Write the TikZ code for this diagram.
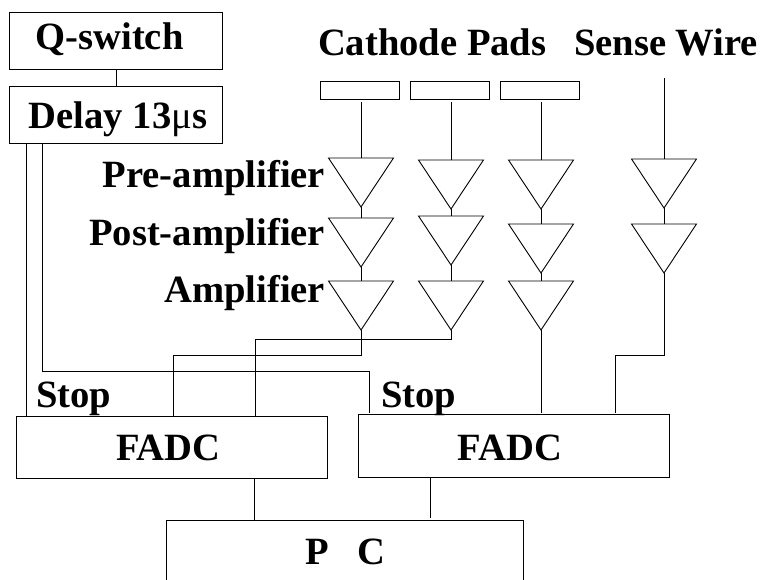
\documentclass[tikz,border=0pt]{standalone}
\usepackage{fontspec}
\setmainfont{Liberation Serif}
\usetikzlibrary{shapes.geometric}
\begin{document}
\begin{tikzpicture}[x=1pt, y=-1pt, line width=0.9pt,
    every node/.style={font=\fontsize{38.6}{41}\selectfont\bfseries, inner sep=0pt, outer sep=0pt},
    boxnode/.style={draw, rectangle, align=center},
    pad/.style={draw, rectangle, minimum width=79pt, minimum height=18pt},
    amp/.style={draw, isosceles triangle, isosceles triangle stretches, shape border rotate=270,
        minimum width=65pt, minimum height=49pt, anchor=apex},
    wire/.style={shorten <=3pt, shorten >=1.5pt}]
    \useasboundingbox (0,0) rectangle (763,580);
    \clip (0,0) rectangle (763,580);

    \node[boxnode, minimum width=213pt, minimum height=57pt, text height=25pt, text depth=8pt] (qsw) at (116,41) {\hspace*{-13pt}Q-switch};
    \node[boxnode, minimum width=213pt, minimum height=57pt, text height=33pt, text depth=4pt] (delay) at (116,114.5) {\hspace*{4pt}Delay 13{\mdseries μ}s};
    \node[boxnode, minimum width=311pt, minimum height=62pt, text height=30pt, text depth=4pt] (fadca) at (172.2,447.2) {\hspace*{-8pt}FADC};
    \node[boxnode, minimum width=311pt, minimum height=63pt, text height=32pt, text depth=3.5pt] (fadcb) at (513.8,445.8) {\hspace*{-8pt}FADC};
    \node[boxnode, minimum width=357pt, minimum height=80pt, text height=25pt, text depth=17pt] (pc) at (345.4,560.7) {P\hspace{28pt}C};

    \node[anchor=base west] (cathode) at (318,56) {Cathode Pads};
    \node[anchor=base west] (sense) at (574,56) {Sense Wire};
    \node[anchor=base east] (pre) at (325,188) {Pre-amplifier};
    \node[anchor=base east] (post) at (325,245) {Post-amplifier};
    \node[anchor=base east] (main) at (325,302) {Amplifier};
    \node[anchor=base west] (stopa) at (36,407) {Stop};
    \node[anchor=base west] (stopb) at (381,407) {Stop};

    \node[pad] (pada) at (360,90) {};
    \node[pad] (padb) at (449.5,90) {};
    \node[pad] (padc) at (539.8,90) {};

    \node[amp] (a1) at (361,207) {};
    \node[amp] (a2) at (361,267) {};
    \node[amp] (a3) at (361,330) {};
    \node[amp] (b1) at (451,209) {};
    \node[amp] (b2) at (451,265) {};
    \node[amp] (b3) at (451,330) {};
    \node[amp] (c1) at (541,209) {};
    \node[amp] (c2) at (541,273) {};
    \node[amp] (c3) at (541,330) {};
    \node[amp] (s1) at (664,208) {};
    \node[amp] (s2) at (664,273) {};

    \coordinate (swire) at (664,78);
    \coordinate (stopl) at (26,143);
    \coordinate (stopr) at (42.4,143);
    \coordinate (stopd) at (369.5,371.7);
    \coordinate (jointa) at (173.3,355);
    \coordinate (jointb) at (255,339.3);
    \coordinate (jointc) at (615,355);

    \draw (qsw) -- (delay);
    \draw[wire, shorten >=0pt] (a1.lower side |- pada.south) -- (a1.lower side);
    \draw[wire, shorten >=0pt] (b1.lower side |- padb.south) -- (b1.lower side);
    \draw[wire, shorten >=0pt] (c1.lower side |- padc.south) -- (c1.lower side);
    \draw (swire) -- (s1.lower side);

    \draw (a1.apex) -- (a2.lower side);
    \draw (a2.apex) -- (a3.lower side);
    \draw (b1.apex) -- (b2.lower side);
    \draw (b2.apex) -- (b3.lower side);
    \draw (c1.apex) -- (c2.lower side);
    \draw (c2.apex) -- (c3.lower side);
    \draw (s1.apex) -- (s2.lower side);

    \draw (a3.apex) |- (jointa) -- (jointa |- fadca.north);
    \draw (b3.apex) |- (jointb) -- (jointb |- fadca.north);
    \draw[shorten >=1.5pt] (c3.apex) -- (c3.apex |- fadcb.north);
    \draw[shorten >=1.5pt] (s2.apex) |- (jointc) -- (jointc |- fadcb.north);

    \draw (stopl) -- (stopl |- fadca.north);
    \draw[shorten >=1.5pt] (stopr) |- (stopd) -- (stopd |- fadcb.north);

    \draw (fadca.south -| 254,0) -- (pc.north -| 254,0);
    \draw[shorten >=3pt] (fadcb.south -| 430.7,0) -- (pc.north -| 430.7,0);
\end{tikzpicture}
\end{document}
